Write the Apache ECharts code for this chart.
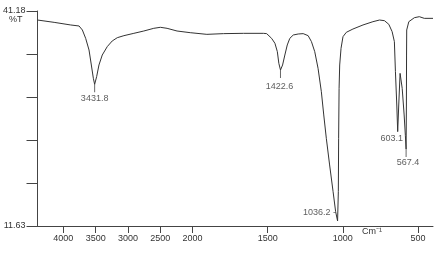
<!DOCTYPE html>
<html>
<head>
<meta charset="utf-8">
<script src="https://cdn.jsdelivr.net/npm/echarts@6/dist/echarts.min.js"></script>
<style>
  html, body { margin: 0; padding: 0; background: #fff; }
  #chart { width: 436px; height: 260px; }
</style>
</head>
<body>
<div id="chart"></div>
<script>
// spectrum: [wavenumber cm-1, %T]
var spectrum = [
  [4400, 39.94], [4143, 39.62], [3886, 39.26], [3757, 39.12], [3706, 38.57],
  [3655, 37.42], [3603, 35.82], [3567, 33.76], [3536, 31.93], [3516, 31.10],
  [3485, 32.16], [3449, 33.76], [3398, 35.13], [3321, 36.28], [3244, 37.06],
  [3166, 37.51], [3063, 37.79], [2909, 38.11], [2755, 38.43], [2601, 38.80],
  [2499, 38.94], [2395, 38.80], [2241, 38.43], [2036, 38.20], [1905, 37.97],
  [1794, 38.07], [1662, 38.11], [1529, 38.11], [1507, 38.07], [1474, 37.42],
  [1452, 36.74], [1436, 35.59], [1426, 33.99], [1415, 33.07], [1401, 33.76],
  [1386, 35.13], [1370, 36.51], [1353, 37.42], [1330, 37.88], [1297, 38.02],
  [1264, 38.07], [1231, 37.79], [1209, 36.97], [1187, 35.59], [1165, 33.30],
  [1143, 30.09], [1127, 26.89], [1110, 23.68], [1088, 20.02], [1065, 16.35],
  [1048, 13.60], [1035, 12.32], [1030, 16.35], [1028, 23.68], [1025, 30.55],
  [1021, 33.76], [1012, 36.05], [999, 37.65], [977, 38.25], [933, 38.70],
  [866, 39.26], [800, 39.71], [756, 39.94], [723, 39.85], [694, 39.35],
  [672, 38.34], [657, 36.97], [650, 32.84], [641, 28.26], [635, 24.60],
  [628, 28.26], [619, 32.61], [605, 30.55], [592, 26.89], [584, 24.10],
  [579, 22.21], [577, 28.26], [576, 35.13], [575, 38.57], [561, 39.71],
  [524, 40.26], [491, 40.40], [458, 40.17], [400, 40.17]
];

var peaks = [[3516, 31.10], [1415, 33.07], [1035, 12.32], [635, 24.60], [579, 22.21]];
var peakNames = ['3431.8', '1422.6', '1036.2 -', '603.1', '567.4'];
var peakMarked = [true, true, false, false, true];
var peakLabelOffset = [[0, 14], [-1, 17], [-18, -8], [-6, 7], [2, 13]];

var xTicks = [4000, 3500, 3000, 2500, 2000, 1500, 1000, 500];
var yTicks = [11.63, 17.54, 23.45, 29.36, 35.27, 41.18];
var yLabels = [11.63, 41.18];

var FONT = 'Liberation Sans, Arial, sans-serif';

// above 2000 cm-1 the scale is compressed
var SHRINK = 0.43;
function toAxis(w) {
  return w >= 2000 ? (4400 - w) * SHRINK : 2400 * SHRINK + (2000 - w);
}
function fromAxis(u) {
  return u <= 2400 * SHRINK ? 4400 - u / SHRINK : 2000 - (u - 2400 * SHRINK);
}

var myChart = echarts.init(document.getElementById('chart'));

var labelData = peaks.map(function (p, i) {
  return {
    value: [toAxis(p[0]), p[1]],
    label: {
      show: true,
      position: 'inside',
      offset: peakLabelOffset[i],
      formatter: peakNames[i]
    }
  };
});

var markData = [];
peaks.forEach(function (p, i) {
  if (peakMarked[i]) markData.push([toAxis(p[0]), p[1]]);
});

myChart.setOption({
  animation: false,
  grid: {
    left: 36,
    right: 3,
    top: 11,
    bottom: 34
  },
  xAxis: {
    type: 'value',
    min: 0,
    max: toAxis(400),
    axisLine: {
      show: true,
      lineStyle: { color: '#444', width: 1 }
    },
    axisTick: {
      show: true,
      length: 7,
      customValues: xTicks.map(toAxis),
      lineStyle: { color: '#444' }
    },
    axisLabel: {
      customValues: xTicks.map(toAxis),
      formatter: function (v) { return String(Math.round(fromAxis(v))); },
      fontSize: 9,
      fontFamily: FONT,
      color: '#333',
      margin: 8
    },
    splitLine: { show: false }
  },
  yAxis: {
    type: 'value',
    min: 11.63,
    max: 41.18,
    axisLine: {
      show: true,
      lineStyle: { color: '#444', width: 1 }
    },
    axisTick: {
      show: true,
      length: 11,
      customValues: yTicks,
      lineStyle: { color: '#444' }
    },
    axisLabel: {
      customValues: yLabels,
      formatter: function (v) { return v.toFixed(2); },
      fontSize: 9,
      fontFamily: FONT,
      color: '#333',
      margin: 12
    },
    splitLine: { show: false }
  },
  graphic: [
    {
      type: 'text',
      left: 9,
      top: 15,
      style: { text: '%T', fontSize: 9, fontFamily: FONT, fill: '#333' }
    },
    {
      type: 'text',
      left: 362,
      top: 227,
      style: { text: 'Cm⁻¹', fontSize: 9, fontFamily: FONT, fill: '#333' }
    }
  ],
  series: [
    {
      name: 'spectrum',
      type: 'line',
      showSymbol: false,
      smooth: false,
      lineStyle: { color: '#333', width: 1 },
      data: spectrum.map(function (p) { return [toAxis(p[0]), p[1]]; }),
      z: 3
    },
    {
      name: 'peak ticks',
      type: 'scatter',
      symbol: 'rect',
      symbolSize: [1, 8],
      symbolOffset: [0, 4],
      itemStyle: { color: '#444' },
      data: markData,
      z: 2
    },
    {
      name: 'peak labels',
      type: 'scatter',
      symbolSize: 1,
      itemStyle: { color: 'rgba(0,0,0,0)' },
      label: {
        fontSize: 9,
        fontFamily: FONT,
        color: '#333'
      },
      data: labelData,
      z: 4
    }
  ]
});
</script>
</body>
</html>
